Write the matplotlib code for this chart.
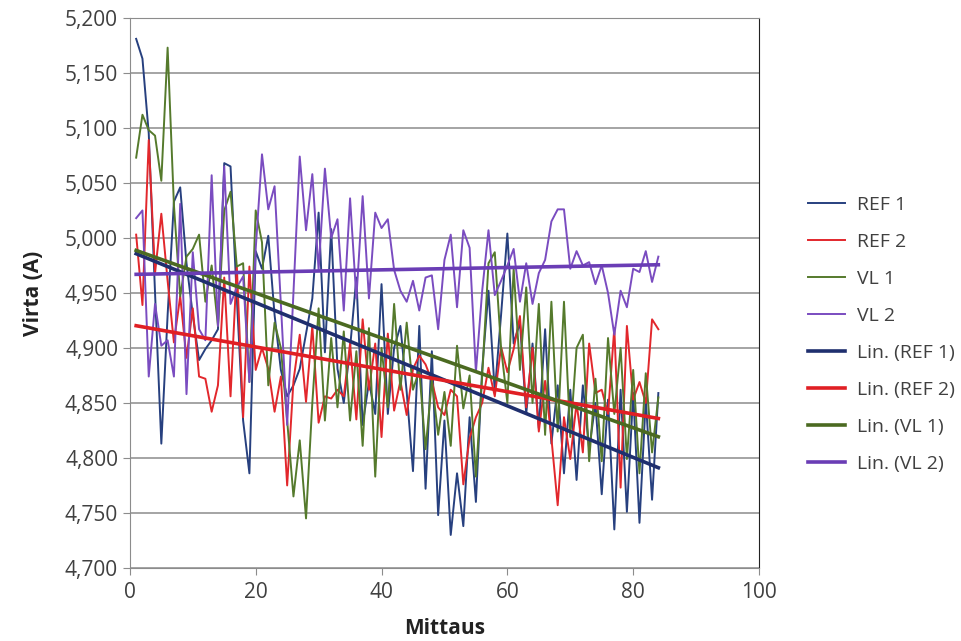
import matplotlib.pyplot as plt
import numpy as np
from matplotlib.ticker import FuncFormatter

plt.rcParams['font.family'] = ['Open Sans', 'DejaVu Sans']

ref1 = [5.181, 5.163, 5.095, 4.950, 4.813, 4.930, 5.033, 5.046, 4.977, 4.930,
        4.889, 4.899, 4.907, 4.917, 5.068, 5.065, 4.945, 4.834, 4.786, 4.988,
        4.972, 5.002, 4.930, 4.880, 4.856, 4.866, 4.881, 4.913, 4.945, 5.023,
        4.896, 5.008, 4.881, 4.850, 4.900, 4.964, 4.830, 4.869, 4.840, 4.958,
        4.840, 4.900, 4.920, 4.860, 4.788, 4.920, 4.772, 4.897, 4.748, 4.834,
        4.730, 4.786, 4.738, 4.837, 4.760, 4.881, 4.952, 4.860, 4.930, 5.004,
        4.904, 4.923, 4.840, 4.904, 4.827, 4.917, 4.813, 4.866, 4.786, 4.862,
        4.780, 4.866, 4.808, 4.850, 4.767, 4.853, 4.735, 4.862, 4.751, 4.859,
        4.741, 4.853, 4.762, 4.859]
ref2 = [5.003, 4.939, 5.089, 4.968, 5.022, 4.961, 4.905, 4.947, 4.891, 4.936,
        4.874, 4.872, 4.842, 4.866, 4.964, 4.856, 4.974, 4.837, 4.974, 4.880,
        4.900, 4.881, 4.842, 4.874, 4.775, 4.870, 4.912, 4.851, 4.920, 4.832,
        4.856, 4.854, 4.862, 4.856, 4.904, 4.835, 4.926, 4.862, 4.904, 4.819,
        4.913, 4.843, 4.870, 4.839, 4.881, 4.893, 4.885, 4.870, 4.846, 4.839,
        4.862, 4.856, 4.776, 4.818, 4.837, 4.850, 4.882, 4.856, 4.901, 4.878,
        4.899, 4.929, 4.846, 4.900, 4.824, 4.870, 4.818, 4.757, 4.837, 4.799,
        4.850, 4.805, 4.904, 4.859, 4.862, 4.840, 4.918, 4.773, 4.920, 4.853,
        4.869, 4.850, 4.926, 4.917]
vl1 = [5.073, 5.112, 5.098, 5.093, 5.052, 5.173, 5.030, 4.947, 4.983, 4.990,
       5.003, 4.942, 4.975, 4.920, 5.025, 5.042, 4.974, 4.977, 4.869, 5.025,
       4.996, 4.866, 4.923, 4.900, 4.834, 4.765, 4.816, 4.745, 4.850, 4.936,
       4.834, 4.909, 4.846, 4.915, 4.834, 4.897, 4.811, 4.918, 4.783, 4.900,
       4.846, 4.940, 4.862, 4.923, 4.862, 4.880, 4.808, 4.870, 4.821, 4.860,
       4.811, 4.902, 4.845, 4.875, 4.783, 4.875, 4.977, 4.987, 4.900, 4.850,
       4.972, 4.880, 4.955, 4.850, 4.940, 4.821, 4.942, 4.824, 4.942, 4.819,
       4.900, 4.912, 4.797, 4.872, 4.797, 4.909, 4.840, 4.900, 4.799, 4.880,
       4.786, 4.877, 4.805, 4.855]
vl2 = [5.018, 5.025, 4.874, 4.940, 4.902, 4.907, 4.874, 5.031, 4.858, 4.987,
       4.917, 4.907, 5.057, 4.920, 5.065, 4.940, 4.955, 4.965, 4.869, 4.990,
       5.076, 5.026, 5.047, 4.940, 4.830, 4.950, 5.074, 5.007, 5.058, 4.971,
       5.063, 5.000, 5.017, 4.934, 5.036, 4.945, 5.038, 4.945, 5.023, 5.009,
       5.017, 4.971, 4.952, 4.942, 4.961, 4.934, 4.964, 4.966, 4.917, 4.980,
       5.003, 4.937, 5.007, 4.991, 4.878, 4.952, 5.007, 4.948, 4.961, 4.975,
       4.990, 4.942, 4.977, 4.940, 4.968, 4.980, 5.015, 5.026, 5.026, 4.972,
       4.988, 4.975, 4.978, 4.958, 4.975, 4.950, 4.912, 4.952, 4.937, 4.972,
       4.969, 4.988, 4.960, 4.983]

names = ['REF 1', 'REF 2', 'VL 1', 'VL 2']
colors = ['#27407f', '#e2272c', '#557a2c', '#7a4cc0']
trend_colors = ['#1f2f6e', '#e01f24', '#4b6a21', '#6a3db5']

x = np.arange(1, len(ref1) + 1)

fig = plt.figure(figsize=(9.62, 6.41), dpi=100)
ax = fig.add_axes([0.135, 0.114, 0.654, 0.858])

handles = []
for y, n, c in zip([ref1, ref2, vl1, vl2], names, colors):
    h, = ax.plot(x, y, color=c, lw=1.4, label=n)
    handles.append(h)
for y, n, c in zip([ref1, ref2, vl1, vl2], names, trend_colors):
    k, b = np.polyfit(x, y, 1)
    xx = np.array([x[0], x[-1]])
    h, = ax.plot(xx, k * xx + b, color=c, lw=2.6, label='Lin. (%s)' % n)
    handles.append(h)

ax.set_xlim(0, 100)
ax.set_ylim(4.7, 5.2)
ax.set_xticks(range(0, 101, 20))
ax.set_yticks(np.arange(4.7, 5.2001, 0.05))
ax.yaxis.set_major_formatter(FuncFormatter(lambda v, p: ('%.3f' % v).replace('.', ',')))
ax.grid(axis='y', color='#8c8c8c', lw=1.1)
ax.set_axisbelow(True)
for s in ['left', 'bottom', 'top']:
    ax.spines[s].set_color('#8c8c8c')
ax.spines['right'].set_color('#222222')
ax.tick_params(colors='#404040', labelsize=15, length=5, color='#8c8c8c')
ax.tick_params(axis='x', pad=5)

ax.set_xlabel('Mittaus', fontsize=15, fontweight='bold', color='#222222', labelpad=11)
ax.set_ylabel('Virta (A)', fontsize=15, fontweight='bold', color='#222222', labelpad=15)

fig.legend(handles=handles, loc='upper left', bbox_to_anchor=(0.822, 0.722),
           frameon=False, fontsize=14, handlelength=1.9, labelspacing=0.98,
           handletextpad=0.6, labelcolor='#404040')

plt.savefig('out.png', dpi=100)
